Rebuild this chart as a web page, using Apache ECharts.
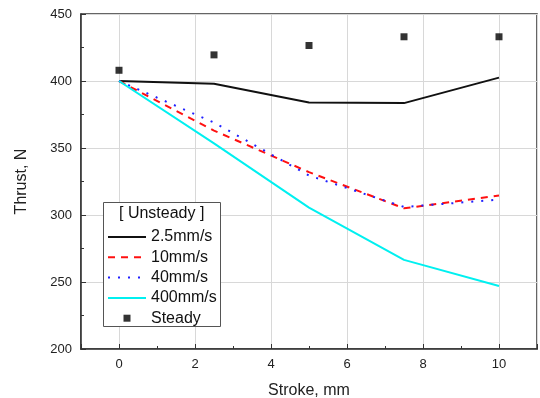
<!DOCTYPE html>
<html><head><meta charset="utf-8">
<script src="https://cdn.jsdelivr.net/npm/echarts@6/dist/echarts.min.js"></script>
<style>html,body{margin:0;padding:0;background:#fff}#c{width:540px;height:398px}</style>
</head><body><div id="c"></div>
<script>
var strokes = [0, 2.5, 5, 7.5, 10];
var s2_5 = [400, 398, 384, 383.5, 402.5];
var s10 = [400, 363, 332, 305, 314.5];
var s40 = [400, 369, 329.5, 306, 311.5];
var s400 = [400, 353.5, 305.5, 266.5, 247];
var steady = [408, 419.5, 426.5, 433, 433];
var seriesNames = ['2.5mm/s', '10mm/s', '40mm/s', '400mm/s', 'Steady'];

function pairs(v){ return strokes.map(function(x,i){ return [x, v[i]]; }); }

var font = 'Liberation Sans, Arial, sans-serif';
var chart = echarts.init(document.getElementById('c'), null, {renderer:'canvas'});
var legendData = seriesNames.map(function(n, i){
  if (i < 4) return {name:n, itemStyle:{opacity:0}};
  return {name:n, icon:'path://M0,0h10v10h-10z'};
});
chart.setOption({
  animation:false,
  grid:{left:81, right:3, top:14, bottom:49, show:true, borderColor:'#333', borderWidth:1.5,
        outerBoundsMode:'none', containLabel:false},
  xAxis:{type:'value', min:-1, max:11, splitNumber:6,
    name:'Stroke, mm', nameLocation:'middle', nameGap:34,
    nameTextStyle:{fontFamily:font, fontSize:16, color:'#222'},
    axisLine:{onZero:false, lineStyle:{color:'#333', width:1.5}},
    axisTick:{inside:true, length:5, lineStyle:{color:'#333'}},
    minorTick:{show:true, splitNumber:2, length:3, lineStyle:{color:'#333'}},
    axisLabel:{fontFamily:font, fontSize:13, color:'#222', margin:9, showMinLabel:false, showMaxLabel:false,
      formatter:function(v){ return (v>=0 && v<=10) ? String(v) : ''; }},
    splitLine:{show:true, lineStyle:{color:'#d8d8d8', width:1}}
  },
  yAxis:{type:'value', min:200, max:450, interval:50,
    name:'Thrust, N', nameLocation:'middle', nameGap:51,
    nameTextStyle:{fontFamily:font, fontSize:16, color:'#222'},
    axisLine:{onZero:false, lineStyle:{color:'#333', width:1.5}},
    axisTick:{inside:true, length:5, lineStyle:{color:'#333'}},
    minorTick:{show:true, splitNumber:2, length:3, lineStyle:{color:'#333'}},
    axisLabel:{fontFamily:font, fontSize:13, color:'#222', margin:9},
    splitLine:{show:true, lineStyle:{color:'#d8d8d8', width:1}}
  },
  legend:{orient:'vertical', left:102, top:224, padding:5, itemWidth:38, itemHeight:7, itemGap:4.3, z:10,
    symbolKeepAspect:true,
    data:legendData,
    textStyle:{fontFamily:font, fontSize:16, color:'#111', lineHeight:16}},
  graphic:[
    {type:'rect', left:103, top:202, shape:{width:117, height:124}, z:5,
     style:{fill:'#fff', stroke:'#555', lineWidth:1}},
    {type:'text', left:119, top:206, z:11,
     style:{text:'[ Unsteady ]', fontFamily:font, fontSize:16, fill:'#111'}}
  ],
  series:[
    {name:seriesNames[0], type:'line', data:pairs(s2_5), symbol:'none', lineStyle:{color:'#111', width:2}, itemStyle:{color:'#111'}},
    {name:seriesNames[1], type:'line', data:pairs(s10), symbol:'none', lineStyle:{color:'#ff1010', width:2, type:[7,6]}, itemStyle:{color:'#ff1010'}},
    {name:seriesNames[2], type:'line', data:pairs(s40), symbol:'none', lineStyle:{color:'#2020ff', width:2, type:[2,8]}, itemStyle:{color:'#2020ff'}},
    {name:seriesNames[3], type:'line', data:pairs(s400), symbol:'none', lineStyle:{color:'#00f0f0', width:2}, itemStyle:{color:'#00f0f0'}},
    {name:seriesNames[4], type:'scatter', data:pairs(steady), symbol:'rect', symbolSize:7, itemStyle:{color:'#000'}}
  ]
});
</script></body></html>
